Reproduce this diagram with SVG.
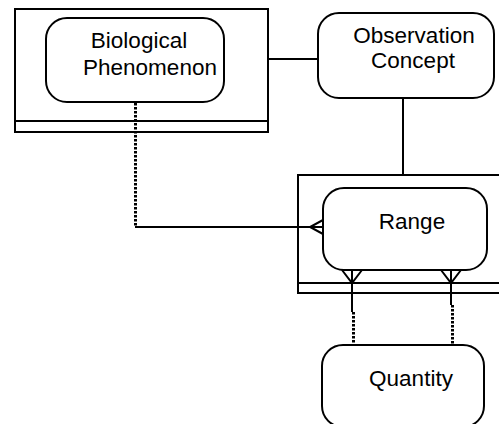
<svg xmlns="http://www.w3.org/2000/svg" width="499" height="424" viewBox="0 0 499 424">
<style>
.frame{fill:none;stroke:#000;stroke-width:2}
.ent{fill:#fff;stroke:#000;stroke-width:2}
.ln{fill:none;stroke:#000;stroke-width:2}
.dot{fill:none;stroke:#000;stroke-width:3;stroke-dasharray:2.5 1.5}
text{font-family:"Liberation Sans",Arial,sans-serif;font-size:22.5px;fill:#000;text-anchor:middle}
</style>
<rect width="499" height="424" fill="#fff"/>
<g id="biological-phenomenon">
<rect class="frame" x="15" y="9" width="253" height="123"/>
<line class="ln" x1="15" y1="121" x2="268" y2="121"/>
<rect class="ent" x="46" y="18" width="178" height="84" rx="21"/>
<text x="139" y="48">Biological</text>
<text x="150" y="75">Phenomenon</text>
</g>
<g id="observation-concept">
<rect class="ent" x="318" y="13" width="176" height="85" rx="21"/>
<text x="414" y="43">Observation</text>
<text x="413" y="68">Concept</text>
</g>
<g id="range">
<rect class="frame" x="298" y="175" width="215" height="118"/>
<line class="ln" x1="298" y1="283" x2="513" y2="283"/>
<rect class="ent" x="323" y="188" width="164" height="82" rx="21"/>
<text x="412" y="229">Range</text>
</g>
<g id="quantity">
<rect class="ent" x="322" y="345" width="162" height="82" rx="21"/>
<text x="411" y="386">Quantity</text>
</g>
<g id="connectors">
<line class="ln" x1="268" y1="59" x2="318" y2="59"/>
<line class="ln" x1="403" y1="98" x2="403" y2="175"/>
<line class="dot" x1="135.5" y1="103" x2="135.5" y2="226"/>
<polyline class="ln" points="135,227 323,227"/>
<polyline class="ln" points="323,220 310,227 323,234"/>
<line class="ln" x1="352" y1="270" x2="352" y2="312"/>
<line class="dot" x1="353.5" y1="312" x2="353.5" y2="345"/>
<polyline class="ln" points="342,270 352,283 362,270"/>
<line class="ln" x1="451" y1="270" x2="451" y2="305"/>
<line class="dot" x1="452.5" y1="305" x2="452.5" y2="345"/>
<polyline class="ln" points="441,270 451,283 461,270"/>
</g>
</svg>
